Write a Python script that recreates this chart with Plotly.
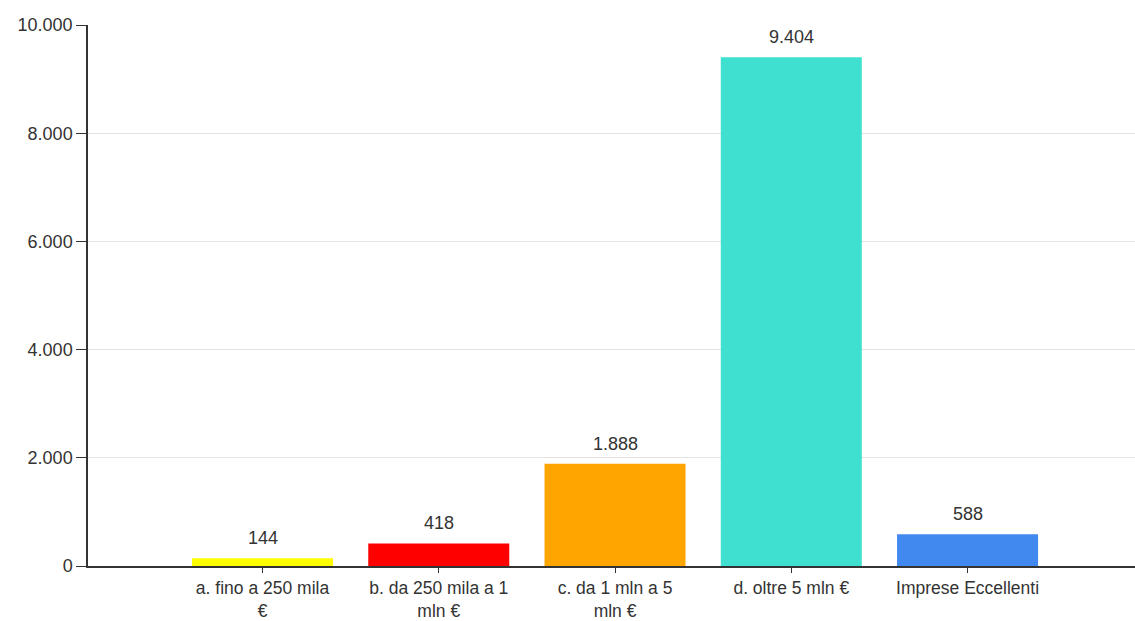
import plotly.graph_objects as go

categories = ["a. fino a 250 mila<br>€", "b. da 250 mila a 1<br>mln €", "c. da 1 mln a 5<br>mln €",
              "d. oltre 5 mln €", "Imprese Eccellenti"]
values = [144, 418, 1888, 9404, 588]
colors = ["#FFFF00", "#FF0000", "#FFA500", "#40E0D0", "#4189EE"]
y_ticks = [0, 2000, 4000, 6000, 8000, 10000]

xs = list(range(len(values)))
fig = go.Figure()
fig.add_trace(go.Bar(x=xs, y=values, marker=dict(color=colors, line=dict(width=0)), width=0.8,
                     hoverinfo="skip"))

def fmt(v):
    return f"{v:,}".replace(",", ".")

for x, v in zip(xs, values):
    fig.add_annotation(x=x, y=v, text=fmt(v), showarrow=False, yanchor="bottom", yshift=8,
                       font=dict(size=18, color="#333333"))

font = "Liberation Sans, Arial, sans-serif"
fig.update_layout(
    width=1135, height=621,
    margin=dict(l=88, r=0, t=25, b=55, autoexpand=False),
    paper_bgcolor="white", plot_bgcolor="white",
    font=dict(family=font, size=18, color="#333333"),
    showlegend=False,
    separators=",.",
)
fig.update_xaxes(range=[-0.99, 4.95], tickvals=xs, ticktext=categories, ticks="outside", ticklen=5,
                 tickcolor="#333333", showline=True, linecolor="#333333", linewidth=1.5,
                 showgrid=False, zeroline=False, automargin=False,
                 tickfont=dict(size=17.5, color="#333333"))
fig.update_yaxes(range=[0, 10000], tickvals=y_ticks, ticktext=[fmt(t) for t in y_ticks],
                 ticks="outside", ticklen=10, tickcolor="#333333", showline=True, linecolor="#333333",
                 linewidth=1.5, showgrid=True, gridcolor="#E3E3E3", gridwidth=1, zeroline=False,
                 automargin=False, tickfont=dict(size=18, color="#333333"))

fig.write_html("out.html", config={"displayModeBar": False},
               post_script="document.body.style.margin='0';document.body.style.overflow='hidden';")
